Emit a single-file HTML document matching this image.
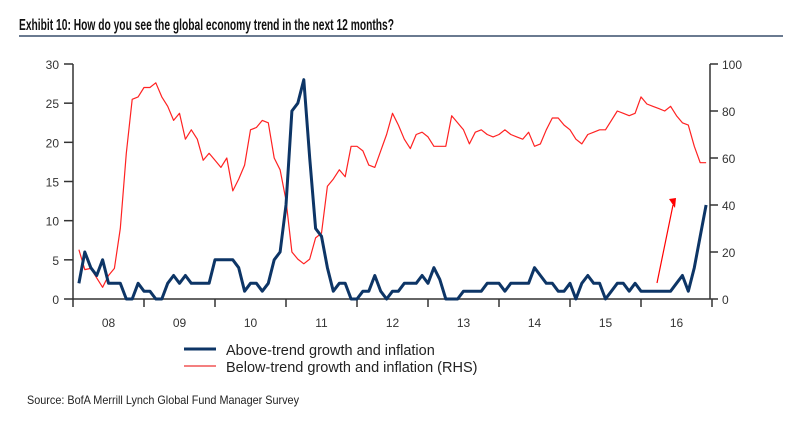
<!DOCTYPE html>
<html><head><meta charset="utf-8"><style>
body{margin:0;background:#fff;width:788px;height:427px;overflow:hidden;font-family:"Liberation Sans",sans-serif}
svg{display:block}
</style></head><body>
<svg id="chart" width="788" height="427">
<text x="19" y="30" font-size="16" font-weight="bold" fill="#111" textLength="375" lengthAdjust="spacingAndGlyphs">Exhibit 10: How do you see the global economy trend in the next 12 months?</text>
<rect x="19" y="35" width="764" height="2" fill="#6a7a90"/>
<g id="axes"></g>
<g id="series"></g>
<path d="M657,283 L673,205" stroke="#f00" stroke-width="1.2" fill="none"/>
<polygon points="669,199 676,198 675,208" fill="#f00"/>
<line x1="184" y1="349" x2="216" y2="349" stroke="#0d3566" stroke-width="3"/>
<text x="226" y="355" font-size="14.5" fill="#222">Above-trend growth and inflation</text>
<line x1="184" y1="366" x2="216" y2="366" stroke="#e33" stroke-width="1.3"/>
<text x="226" y="372" font-size="14.5" fill="#222">Below-trend growth and inflation (RHS)</text>
<text x="27" y="404" font-size="12" fill="#222" textLength="272" lengthAdjust="spacingAndGlyphs">Source: BofA Merrill Lynch Global Fund Manager Survey</text>
</svg>
<script>
const years=["08","09","10","11","12","13","14","15","16"];
const leftTicks=[0,5,10,15,20,25,30];
const rightTicks=[0,20,40,60,80,100];
const aboveTrend=[2,6,4,3,5,2,2,2,0,0,2,1,1,0,0,2,3,2,3,2,2,2,2,5,5,5,5,4,1,2,2,1,2,5,6,12,24,25,28,18,9,8,4,1,2,2,0,0,1,1,3,1,0,1,1,2,2,2,3,2,4,2.5,0,0,0,1,1,1,1,2,2,2,1,2,2,2,2,4,3,2,2,1,1,2,0,2,3,2,2,0,1,2,2,1,2,1,1,1,1,1,1,2,3,1,4,8,12];
const belowTrend=[21,12.5,13,9,5,10,13,30,62,85,86,90,90,92,86,82,76,79,68,72,68,59,62,59,56,60,46,51,57,72,73,76,75,60,55,42,20,17,15,17,26,28,48,51,55,52,65,65,63,57,56,63,70,79,74,68,64,70,71,69,65,65,65,78,75,72,66,71,72,70,69,70,72,70,69,68,71,65,66,72,77,77,74,72,68,66,70,71,72,72,76,80,79,78,79,86,83,82,81,80,82,78,75,74,65,58,58];
const NS="http://www.w3.org/2000/svg";
const X0=73,MW=71/12,YT=64,YB=299;
const xM=m=>X0+MW*(m+1);
const yL=v=>YB-(v/30)*(YB-YT);
const yR=v=>YB-(v/100)*(YB-YT);
const axes=document.getElementById('axes'),ser=document.getElementById('series');
function mk(t,a,p){const e=document.createElementNS(NS,t);for(const k in a)e.setAttribute(k,a[k]);p.appendChild(e);return e;}
let e;
e=mk('line',{x1:X0,y1:YT,x2:X0,y2:YB,stroke:'#333','stroke-width':1.5},axes);


e=mk('line',{x1:710,y1:YT,x2:710,y2:YB,stroke:'#333','stroke-width':1.5},axes);


e=mk('line',{x1:X0,y1:YB,x2:710,y2:YB,stroke:'#333','stroke-width':1.5},axes);


leftTicks.forEach(v=>{
 e=mk('line',{x1:64,y1:yL(v),x2:X0,y2:yL(v),stroke:'#333','stroke-width':1.5},axes);
 
 
 e=mk('text',{x:59,y:yL(v)+5,'font-size':12,fill:'#333','text-anchor':'end'},axes);e.textContent=v;
 
 
});
rightTicks.forEach(v=>{
 e=mk('line',{x1:710,y1:yR(v),x2:718,y2:yR(v),stroke:'#333','stroke-width':1.5},axes);
 
 
 e=mk('text',{x:722,y:yR(v)+5,'font-size':12,fill:'#333'},axes);e.textContent=v;
 
 
});
for(let k=0;k<=years.length;k++){
 const x=X0+71*k;
 e=mk('line',{x1:x,y1:YB,x2:x,y2:YB+8,stroke:'#333','stroke-width':1.5},axes);
 
 
 if(k<years.length){
  e=mk('text',{x:x+35.5,y:327,'font-size':12,fill:'#333','text-anchor':'middle'},axes);e.textContent=years[k];
  
  
 }
}
let d=belowTrend.map((v,i)=>(i?'L':'M')+xM(i).toFixed(1)+','+yR(v).toFixed(1)).join(' ');
e=mk('path',{d:d,fill:'none',stroke:'#f22','stroke-width':1.2,'stroke-linejoin':'round'},ser);


d=aboveTrend.map((v,i)=>(i?'L':'M')+xM(i).toFixed(1)+','+yL(v).toFixed(1)).join(' ');
e=mk('path',{d:d,fill:'none',stroke:'#0d3566','stroke-width':3,'stroke-linejoin':'round'},ser);


</script>
</body></html>
